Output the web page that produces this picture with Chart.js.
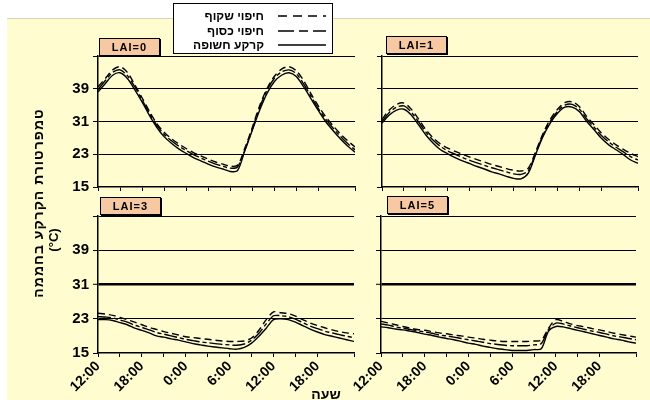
<!DOCTYPE html>
<html>
<head>
<meta charset="utf-8">
<script src="https://cdn.jsdelivr.net/npm/chart.js@4/dist/chart.umd.min.js"></script>
<style>
  body { margin: 0; width: 650px; height: 400px; overflow: hidden; background: #fff; font-family: "Liberation Sans", Arial, sans-serif; }
  #bg { position: absolute; left: 7px; top: 18px; width: 643px; height: 382px; background: #fffcd0; border-top: 1px solid #d8d6b8; }
  canvas { position: absolute; }
  .lai { position: absolute; width: 59px; height: 16px; background: #f7c9a3; border: 1px solid #000; box-shadow: 1px 1px 0 #000;
         font: bold 11px "Liberation Sans", Arial, sans-serif; line-height: 16px; text-align: center; letter-spacing: 1px; z-index: 3; }
  #legend { position: absolute; left: 173px; top: 3px; width: 158px; height: 49px; background: #fff; border: 1px solid #000; z-index: 4;
            font: bold 12px "Liberation Sans", Arial, sans-serif; }
  #legend .row { position: absolute; left: 0; width: 158px; height: 14px; }
  #legend .row span { position: absolute; right: 68px; top: 0; line-height: 14px; direction: rtl; }
  #legend .row svg { position: absolute; right: 6px; top: 0; }
  #ytitle { position: absolute; left: 38px; top: 203px; transform: translate(-50%, -50%) rotate(-90deg); white-space: nowrap;
            font: bold 14px "Liberation Sans", Arial, sans-serif; letter-spacing: 1px; direction: rtl; z-index: 3; }
  #yunit { position: absolute; left: 53px; top: 240px; transform: translate(-50%, -50%) rotate(-90deg); white-space: nowrap;
           font: bold 13px "Liberation Sans", Arial, sans-serif; z-index: 3; }
  #xtitle { position: absolute; left: 326px; top: 394px; transform: translate(-50%, -50%); font: bold 14px "Liberation Sans", Arial, sans-serif; direction: rtl; z-index: 3; }
</style>
</head>
<body>
<div id="bg"></div>
<canvas id="c1" width="360" height="160" style="left:0;top:40px"></canvas>
<canvas id="c2" width="282" height="160" style="left:360px;top:40px"></canvas>
<canvas id="c3" width="360" height="200" style="left:0;top:200px"></canvas>
<canvas id="c4" width="300" height="200" style="left:340px;top:200px"></canvas>

<div class="lai" style="left:99px;top:38px">LAI=0</div>
<div class="lai" style="left:386px;top:36px">LAI=1</div>
<div class="lai" style="left:100px;top:197px">LAI=3</div>
<div class="lai" style="left:387px;top:196px">LAI=5</div>

<div id="legend">
  <div class="row" style="top:5px"><span>חיפוי שקוף</span>
    <svg width="48" height="14"><line x1="0" y1="7" x2="48" y2="7" stroke="#000" stroke-width="1.5" stroke-dasharray="9 6"/></svg></div>
  <div class="row" style="top:20px"><span>חיפוי כסוף</span>
    <svg width="48" height="14"><line x1="0" y1="7" x2="48" y2="7" stroke="#000" stroke-width="1.5" stroke-dasharray="16 5 9 5"/></svg></div>
  <div class="row" style="top:34px"><span>קרקע חשופה</span>
    <svg width="48" height="14"><line x1="0" y1="7" x2="48" y2="7" stroke="#000" stroke-width="1.5"/></svg></div>
</div>

<div id="ytitle">טמפרטורת הקרקע בחממה</div>
<div id="yunit">(°C)</div>
<div id="xtitle">שעה</div>

<script>
// hours after 12:00 on day one
const hours = [0, 1, 2, 3, 4, 5, 6, 7, 8, 9, 10, 11, 12, 13, 14, 15, 16, 17, 18, 19, 20, 21, 22, 23, 24, 25, 26, 27, 28, 29, 30, 31, 32, 33, 34, 35];
const xTickLabels = { 0: '12:00', 6: '18:00', 12: '0:00', 18: '6:00', 24: '12:00', 30: '18:00' };
const yTickLabels = [15, 23, 31, 39];
const gridValues = [23, 31, 39, 47];

const seriesNames = ['חיפוי שקוף', 'חיפוי כסוף', 'קרקע חשופה'];

// LAI = 0
const lai0Clear  = [39.5, 41.5, 43.6, 44.4, 43, 40, 36.8, 33.5, 30.5, 28.4, 26.8, 25.5, 24.4, 23.4, 22.6, 21.8, 21.1, 20.6, 20.1, 20.3, 24.5, 29.5, 34.8, 39, 42, 43.8, 44.4, 43.4, 41, 37.8, 34.8, 32.2, 30, 28, 26.3, 24.8];
const lai0Silver = [38.8, 41, 43, 43.6, 42.2, 39.5, 36.3, 33, 30.1, 27.9, 26.3, 25, 23.9, 22.9, 22.1, 21.3, 20.6, 20.1, 19.6, 19.9, 24, 29, 34.3, 38.6, 41.5, 43.1, 43.6, 42.7, 40.2, 37.2, 34.2, 31.6, 29.4, 27.4, 25.6, 24.1];
const lai0Bare   = [38.2, 40.3, 42.3, 42.9, 41.5, 38.8, 35.8, 32.5, 29.6, 27.3, 25.7, 24.3, 23.2, 22.2, 21.4, 20.6, 19.9, 19.4, 18.8, 19, 23.9, 28.8, 33.7, 37.8, 40.7, 42.3, 42.9, 42, 39.5, 36.6, 33.7, 31, 28.8, 26.8, 25, 23.5];

// LAI = 1
const lai1Clear  = [31.5, 33.8, 35.2, 35.5, 34, 31.6, 29, 27, 25.5, 24.5, 23.7, 23, 22.3, 21.7, 21.1, 20.5, 20, 19.5, 19.1, 18.9, 19.6, 23.6, 28, 31.5, 34, 35.6, 35.8, 34.6, 32.2, 30.2, 28.2, 26.6, 25.3, 24.2, 23.2, 22.4];
const lai1Silver = [31, 33.2, 34.5, 34.8, 33.3, 30.9, 28.4, 26.4, 24.9, 23.8, 23, 22.2, 21.5, 20.9, 20.3, 19.7, 19.2, 18.7, 18.2, 18.1, 19, 23.2, 27.6, 31, 33.5, 35, 35.2, 34, 31.6, 29.6, 27.6, 26, 24.7, 23.6, 22.4, 21.6];
const lai1Bare   = [30.6, 32.6, 33.8, 34, 32.6, 30.2, 27.7, 25.7, 24.1, 23.1, 22.2, 21.4, 20.7, 20, 19.4, 18.7, 18.2, 17.6, 17.1, 17, 18.4, 22.9, 27.3, 30.6, 33, 34.5, 34.5, 33.4, 31, 29, 26.9, 25.3, 24.1, 22.9, 21.6, 20.8];

// LAI = 3
const lai3Clear  = [24.3, 24.1, 23.8, 23.3, 22.8, 22.2, 21.6, 21, 20.5, 20, 19.6, 19.2, 18.8, 18.6, 18.4, 18.2, 18, 17.8, 17.7, 17.7, 17.8, 18.5, 20.3, 22.8, 24.6, 24.4, 24.2, 23.6, 22.8, 22, 21.4, 20.9, 20.4, 20, 19.7, 19.5];
const lai3Silver = [23.5, 23.4, 23.2, 22.7, 22.2, 21.5, 21, 20.4, 19.8, 19.4, 19, 18.6, 18.2, 17.9, 17.6, 17.4, 17.2, 17, 16.9, 16.8, 17.1, 18, 19.6, 21.8, 23.7, 23.7, 23.5, 22.9, 22.1, 21.3, 20.7, 20.1, 19.7, 19.3, 18.9, 18.6];
const lai3Bare   = [22.8, 22.8, 22.6, 22.1, 21.6, 20.8, 20.3, 19.7, 19, 18.7, 18.3, 18, 17.6, 17.2, 16.9, 16.6, 16.4, 16.2, 16, 15.9, 16.3, 17.3, 18.9, 20.8, 22.8, 23, 22.8, 22.2, 21.4, 20.6, 19.9, 19.3, 18.9, 18.5, 18.1, 17.7];

// LAI = 5
const lai5Clear  = [22.4, 22, 21.6, 21.2, 20.8, 20.5, 20.3, 20, 19.7, 19.5, 19.2, 19, 18.7, 18.5, 18.2, 18, 17.8, 17.7, 17.7, 17.7, 17.7, 17.8, 18, 20.8, 22.8, 22.4, 21.8, 21.4, 21.1, 20.7, 20.4, 20, 19.6, 19.3, 19, 18.7];
const lai5Silver = [21.8, 21.5, 21.1, 20.8, 20.5, 20.2, 19.9, 19.6, 19.2, 19, 18.7, 18.4, 18.1, 17.8, 17.5, 17.2, 17, 16.8, 16.7, 16.7, 16.7, 16.9, 17.2, 20.5, 22, 21.8, 21.3, 20.9, 20.5, 20.1, 19.8, 19.4, 19, 18.7, 18.4, 18.1];
const lai5Bare   = [21.1, 20.9, 20.6, 20.4, 20.1, 19.8, 19.4, 19.1, 18.7, 18.4, 18.1, 17.7, 17.3, 17, 16.6, 16.3, 16, 15.8, 15.6, 15.6, 15.6, 15.8, 16, 20.1, 21.2, 21.1, 20.7, 20.3, 19.9, 19.5, 19.1, 18.7, 18.3, 18, 17.6, 17.3];

const dashes = [[7, 4], [13, 3, 4, 3], []];
const fontFamily = '"Liberation Sans", Arial, sans-serif';

function toPoints(values) {
  return values.map((v, i) => ({ x: hours[i], y: v }));
}

function makePanel(id, series, cfg) {
  const datasets = series.map((values, i) => ({
    label: seriesNames[i],
    data: toPoints(values),
    borderColor: '#000',
    borderWidth: 1.4,
    borderDash: dashes[i],
    pointRadius: 0,
    tension: 0.3,
    fill: false,
  }));

  return new Chart(document.getElementById(id), {
    type: 'line',
    data: { datasets },
    options: {
      responsive: false,
      animation: false,
      layout: { padding: { top: cfg.top, right: cfg.right, left: 0, bottom: 0 } },
      plugins: { legend: { display: false }, tooltip: { enabled: false } },
      scales: {
        x: {
          type: 'linear',
          min: 0,
          max: 35,
          afterFit: (s) => { s.height = cfg.xh; s.paddingLeft = 0; s.paddingRight = 0; },
          border: { color: '#000', width: 1.5 },
          grid: { drawOnChartArea: false, color: '#000', tickLength: 4 },
          ticks: {
            display: cfg.xLabels,
            stepSize: 3,
            autoSkip: false,
            minRotation: 45,
            maxRotation: 45,
            padding: 1,
            color: '#000',
            font: { family: fontFamily, weight: 'bold', size: 14 },
            callback: (v) => xTickLabels[v] ?? '',
          },
        },
        y: {
          min: 15,
          max: 47,
          afterFit: (s) => { s.width = cfg.yw; s.paddingTop = 0; s.paddingBottom = 0; },
          border: { color: '#000', width: 1.5 },
          grid: {
            color: (c) => gridValues.includes(c.tick.value) ? '#000' : 'rgba(0,0,0,0)',
            lineWidth: (c) => (cfg.thick31 && c.tick.value === 31) ? 2.6 : 1,
            tickColor: '#000',
            tickWidth: 1,
            tickLength: 5,
          },
          ticks: {
            stepSize: 4,
            padding: 4,
            color: '#000',
            font: { family: fontFamily, weight: 'bold', size: 15 },
            callback: (v) => (cfg.yLabels && yTickLabels.includes(v)) ? String(v) : '',
          },
        },
      },
    },
  });
}

makePanel('c1', [lai0Clear, lai0Silver, lai0Bare], { top: 16, right: 5, xh: 13, yw: 98, yLabels: true, xLabels: false, thick31: false });
makePanel('c2', [lai1Clear, lai1Silver, lai1Bare], { top: 16, right: 4, xh: 13, yw: 22, yLabels: false, xLabels: false, thick31: false });
makePanel('c3', [lai3Clear, lai3Silver, lai3Bare], { top: 16, right: 6, xh: 47, yw: 98, yLabels: true, xLabels: true, thick31: true });
makePanel('c4', [lai5Clear, lai5Silver, lai5Bare], { top: 16, right: 4, xh: 47, yw: 41, yLabels: false, xLabels: true, thick31: true });
</script>
</body>
</html>
